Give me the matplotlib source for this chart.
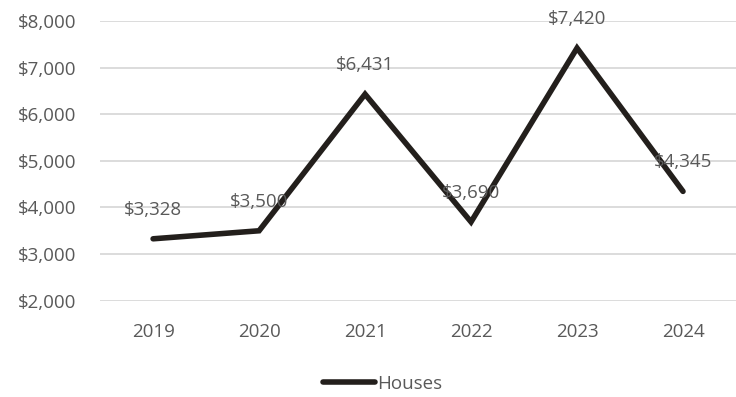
import matplotlib.pyplot as plt
from matplotlib.ticker import FuncFormatter

years = ["2019", "2020", "2021", "2022", "2023", "2024"]
houses = [3328, 3500, 6431, 3690, 7420, 4345]
y_ticks = [2000, 3000, 4000, 5000, 6000, 7000, 8000]

plt.rcParams["font.family"] = ["Open Sans", "DejaVu Sans"]
text_color = "#595959"
line_color = "#231f1c"
fs = 13.5

fig = plt.figure(figsize=(7.36, 3.97), dpi=100)
ax = fig.add_axes([0.136, 0.2426, 0.864, 0.7044])

xs = list(range(len(years)))
ax.plot(xs, houses, color=line_color, linewidth=4, solid_capstyle="round",
        solid_joinstyle="miter", label="Houses", zorder=3)

for x, v in zip(xs, houses):
    ax.annotate(f"${v:,}", (x, v), xytext=(0, 21), textcoords="offset points",
                ha="center", va="center", fontsize=fs, color=text_color, zorder=4)

ax.set_xlim(-0.5, len(years) - 0.5)
ax.set_ylim(2000, 8000)
ax.set_yticks(y_ticks)
ax.yaxis.set_major_formatter(FuncFormatter(lambda v, _: f"${int(v):,}"))
ax.set_xticks(xs)
ax.set_xticklabels(years)
ax.grid(axis="y", color="#d9d9d9", linewidth=1.3)
ax.set_axisbelow(True)
for s in ax.spines.values():
    s.set_visible(False)
ax.tick_params(length=0, labelsize=fs, labelcolor=text_color)
ax.tick_params(axis="x", pad=16)
ax.tick_params(axis="y", pad=17)

fig.legend(loc="center", bbox_to_anchor=(0.52, 0.033), frameon=False,
           fontsize=fs, labelcolor=text_color, handlelength=2.8,
           handletextpad=0.1)

fig.savefig("out.png", dpi=100)
